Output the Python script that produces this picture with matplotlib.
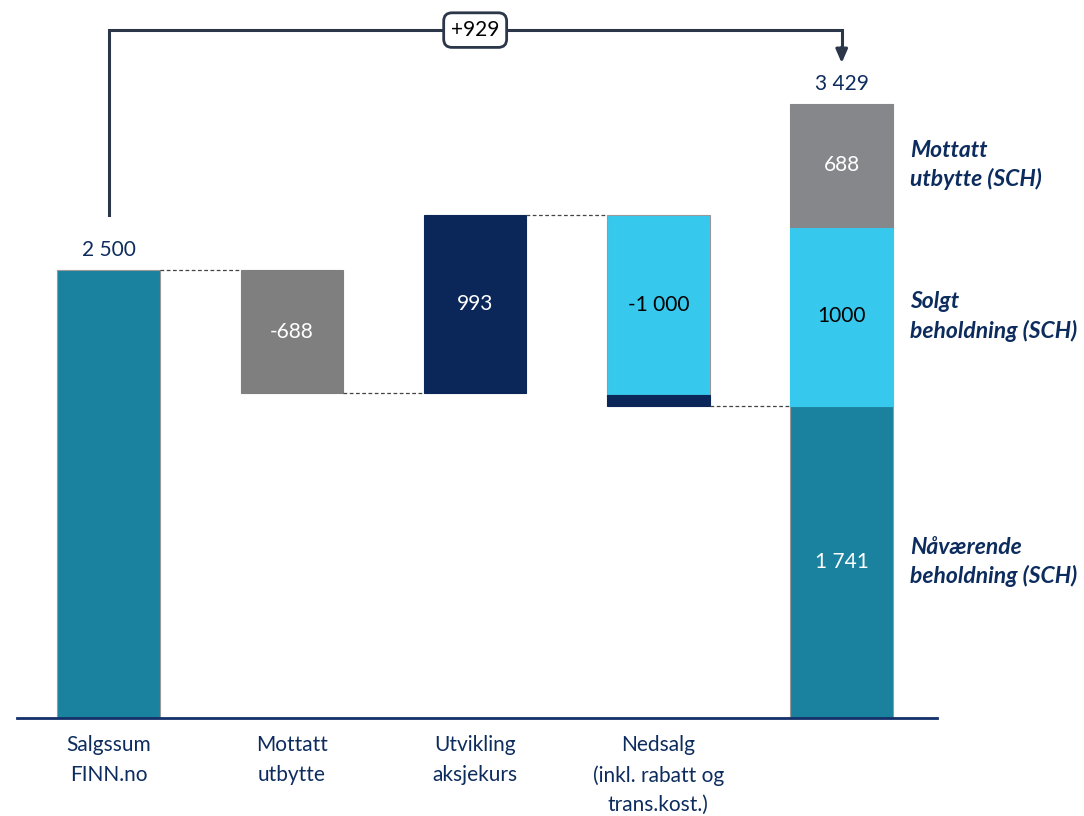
import numpy as np
import matplotlib.pyplot as plt

plt.rcParams['font.family'] = ['Lato', 'DejaVu Sans']

categories = ["Salgssum\nFINN.no", "Mottatt\nutbytte", "Utvikling\naksjekurs",
              "Nedsalg\n(inkl. rabatt og\ntrans.kost.)", ""]
start_value = 2500
changes = [-688, 993, -1000, -64]
change_labels = ["-688", "993", "-1 000", None]
final_parts = [1741, 1000, 688]
final_part_labels = ["1 741", "1000", "688"]
final_part_names = ["Nåværende\nbeholdning (SCH)", "Solgt\nbeholdning (SCH)", "Mottatt\nutbytte (SCH)"]
total = sum(final_parts)
diff_label = "+929"

teal = "#1A829F"
navy = "#0B2659"
light_blue = "#37C8EE"
grey = "#7F7F7F"
grey2 = "#86878B"
text_navy = "#0D2C5E"
bracket = "#2B3648"

fig = plt.figure(figsize=(10.84, 8.16), dpi=100)
ax = fig.add_axes([17 / 1084, 98 / 816, 920 / 1084, 718 / 816])
ax.set_xlim(-0.5, 4.52)
ax.set_ylim(0, 4007)
ax.axis("off")
w = 0.56
fs = 15

# start bar
ax.bar(0, start_value, width=w, color=teal, edgecolor="#999999", linewidth=0.8)
ax.text(0, start_value + 55, "2 500", ha="center", va="bottom", fontsize=fs, color=text_navy)

# change bars
level = start_value
x_pos = [1, 2, 3, 3]
colors = [grey, navy, light_blue, navy]
for c, x, col, lab in zip(changes, x_pos, colors, change_labels):
    lo, hi = min(level, level + c), max(level, level + c)
    ec = "#999999" if col == light_blue else col
    ax.bar(x, hi - lo, bottom=lo, width=w, color=col, edgecolor=ec, linewidth=0.8)
    if lab:
        tc = "black" if col == light_blue else "white"
        ax.text(x, (lo + hi) / 2, lab, ha="center", va="center", fontsize=fs, color=tc)
    level += c

# connectors
conn_levels = [start_value, start_value + changes[0], start_value + sum(changes[:2]), level]
for i, yv in enumerate(conn_levels):
    ax.plot([i + w / 2, i + 1 - w / 2], [yv, yv], ls=(0, (3, 2)), color="#444444", lw=0.9)

# final stacked bar
bottom = 0
fcols = [teal, light_blue, grey2]
ftcols = ["white", "black", "white"]
for v, col, lab, tc, name in zip(final_parts, fcols, final_part_labels, ftcols, final_part_names):
    ec = "#999999" if col == teal else col
    ax.bar(4, v, bottom=bottom, width=w, color=col, edgecolor=ec, linewidth=0.8)
    ax.text(4, bottom + v / 2, lab, ha="center", va="center", fontsize=fs, color=tc)
    ax.text(4.375, bottom + v / 2, name, ha="left", va="center", fontsize=16.5,
            color=text_navy, fontweight="bold", fontstyle="italic", linespacing=1.4)
    bottom += v
ax.text(4, total + 55, "3 429", ha="center", va="bottom", fontsize=fs, color=text_navy)

# baseline
ax.plot([-0.5, 4.52], [0, 0], color="#14306A", lw=2, clip_on=False)

# category labels
for i, cat in enumerate(categories):
    ax.text(i, -95, cat, ha="center", va="top", fontsize=fs, color=text_navy, linespacing=1.6)

# bracket
yb = 3839
ax.plot([0, 0, 4, 4], [2807, yb, yb, 3740], color=bracket, lw=2.2, solid_joinstyle="miter")
ax.annotate("", xy=(4, 3640), xytext=(4, 3760),
            arrowprops=dict(arrowstyle="-|>,head_width=0.35,head_length=0.8", color=bracket, lw=2.2))
ax.text(2, yb, diff_label, ha="center", va="center", fontsize=fs, color="black",
        bbox=dict(boxstyle="round,pad=0.35,rounding_size=0.4", fc="white", ec=bracket, lw=2))

fig.savefig("out.png", dpi=100)
